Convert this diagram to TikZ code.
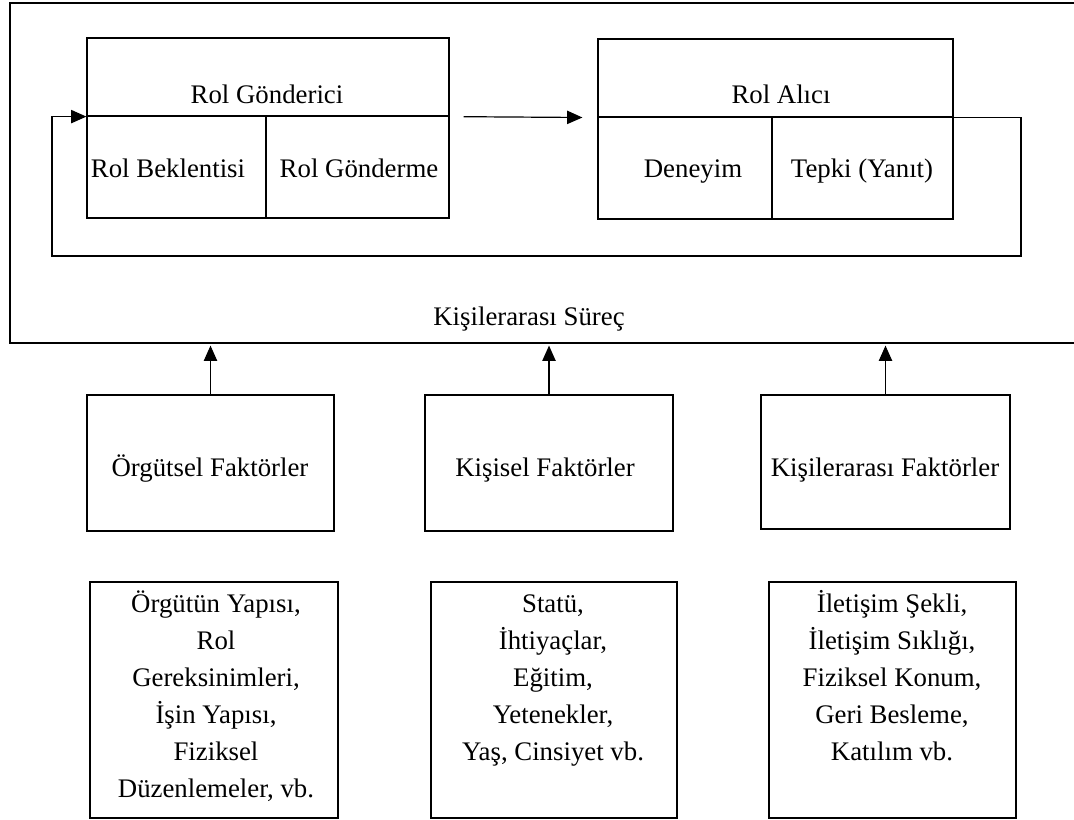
\documentclass[tikz,border=0pt]{standalone}
\usepackage{fontspec}
\setmainfont{Liberation Serif}
\usetikzlibrary{arrows.meta}
\begin{document}
\begin{tikzpicture}[x=0.75pt,y=-0.75pt,
  font=\fontsize{20.1}{27.75}\selectfont,
  frame/.style={draw, line width=0.9pt, inner sep=0pt},
  dims/.style 2 args={minimum width=#1*0.75pt, minimum height=#2*0.75pt},
  txt/.style={inner sep=0pt, anchor=base},
  listtxt/.style={inner sep=0pt, anchor=north, align=center},
  wire/.style={line width=0.9pt},
  arr/.style={line width=0.9pt, -{Triangle[length=11.5pt,width=10pt]}}]
\fill[white] (0,0) rectangle (1074,820);
\useasboundingbox (0,0) rectangle (1074,820);
\clip (0,0) rectangle (1074,820);

% interpersonal process frame (open to the right edge)
\node[frame, dims={1080}{340}] (outer) at (550,173) {};
\node[txt] (process) at (529,325) {Kişilerarası Süreç};

% role sender
\node[frame, dims={362}{78}] (sndHead) at (268,77) {};
\node[frame, dims={179}{102}] (sndA) at (176.5,167) {};
\node[frame, dims={183}{102}] (sndB) at (357.5,167) {};
\node[txt] (sndT) at (267,104) {Rol Gönderici};
\node[txt] (sndAT) at (168,177) {Rol Beklentisi};
\node[txt] (sndBT) at (359,177) {Rol Gönderme};

% role receiver
\node[frame, dims={355}{78}] (rcvHead) at (775.5,78) {};
\node[frame, dims={174}{102}] (rcvA) at (685,168) {};
\node[frame, dims={181}{102}] (rcvB) at (862.5,168) {};
\node[txt] (rcvT) at (781,104) {Rol Alıcı};
\node[txt] (rcvAT) at (693,177) {Deneyim};
\node[txt] (rcvBT) at (862,177) {Tepki (Yanıt)};

% sender to receiver
\draw[arr, shorten <=14*0.75pt, shorten >=15*0.75pt] (sndHead.south east) -- (rcvHead.south west);

% feedback loop
\coordinate (loopBR) at (1021,256);
\coordinate (loopBL) at (52,256);
\draw[arr] (rcvHead.south east) -| (loopBR) -- (loopBL) |- (sndHead.south west);

% factor boxes
\node[frame, dims={247}{136}] (f1) at (210.5,463) {};
\node[frame, dims={248}{136}] (f2) at (549,463) {};
\node[frame, dims={249}{134}] (f3) at (885.5,462) {};
\node[txt] (f1T) at (210,476) {Örgütsel Faktörler};
\node[txt] (f2T) at (545,476) {Kişisel Faktörler};
\node[txt] (f3T) at (885,476) {Kişilerarası Faktörler};

\foreach \f in {f1,f2,f3}
  \draw[arr, shorten >=1.5pt] (\f.north) -- (\f.north |- outer.south);

% detail boxes
\node[frame, dims={248}{236}] (d1) at (214,700) {};
\node[frame, dims={246}{236}] (d2) at (554,700) {};
\node[frame, dims={247}{236}] (d3) at (892.5,700) {};
\node[listtxt] (d1T) at (216,586) {\strut Örgütün Yapısı,\\Rol\\Gereksinimleri,\\İşin Yapısı,\\Fiziksel\\Düzenlemeler, vb.};
\node[listtxt] (d2T) at (553,586) {\strut Statü,\\İhtiyaçlar,\\Eğitim,\\Yetenekler,\\Yaş, Cinsiyet vb.};
\node[listtxt] (d3T) at (892,586) {\strut İletişim Şekli,\\İletişim Sıklığı,\\Fiziksel Konum,\\Geri Besleme,\\Katılım vb.};
\end{tikzpicture}
\end{document}
